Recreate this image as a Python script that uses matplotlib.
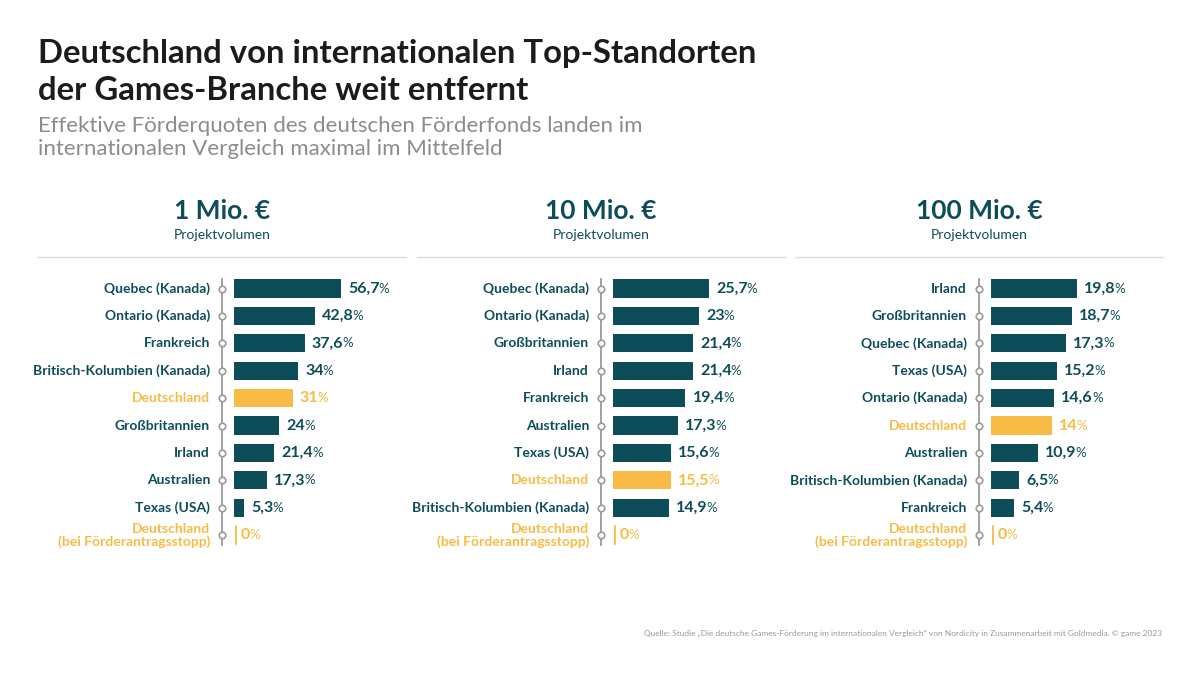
import matplotlib.pyplot as plt

plt.rcParams['font.family'] = ['Lato', 'DejaVu Sans']

TEAL = '#0d4d5a'
GOLD = '#f8bb45'
GREY = '#8c8c8c'

# Daten
heads = ['1 Mio. €', '10 Mio. €', '100 Mio. €']
labels_1 = ['Quebec (Kanada)', 'Ontario (Kanada)', 'Frankreich', 'Britisch-Kolumbien (Kanada)',
            'Deutschland', 'Großbritannien', 'Irland', 'Australien', 'Texas (USA)',
            'Deutschland\n(bei Förderantragsstopp)']
values_1 = [56.7, 42.8, 37.6, 34, 31, 24, 21.4, 17.3, 5.3, 0]
labels_2 = ['Quebec (Kanada)', 'Ontario (Kanada)', 'Großbritannien', 'Irland', 'Frankreich',
            'Australien', 'Texas (USA)', 'Deutschland', 'Britisch-Kolumbien (Kanada)',
            'Deutschland\n(bei Förderantragsstopp)']
values_2 = [25.7, 23, 21.4, 21.4, 19.4, 17.3, 15.6, 15.5, 14.9, 0]
labels_3 = ['Irland', 'Großbritannien', 'Quebec (Kanada)', 'Texas (USA)', 'Ontario (Kanada)',
            'Deutschland', 'Australien', 'Britisch-Kolumbien (Kanada)', 'Frankreich',
            'Deutschland\n(bei Förderantragsstopp)']
values_3 = [19.8, 18.7, 17.3, 15.2, 14.6, 14, 10.9, 6.5, 5.4, 0]

panels = [(labels_1, values_1), (labels_2, values_2), (labels_3, values_3)]

W, H = 1200, 675
fig = plt.figure(figsize=(12, 6.75), dpi=100)
fig.patch.set_facecolor('white')

# Titel
fig.text(38 / W, 1 - 54 / H, 'Deutschland von internationalen Top-Standorten',
         fontsize=23.7, fontweight='bold', color='#1c1c1c', va='center')
fig.text(38 / W, 1 - 90 / H, 'der Games-Branche weit entfernt',
         fontsize=23.7, fontweight='bold', color='#1c1c1c', va='center')
fig.text(38 / W, 1 - 126 / H, 'Effektive Förderquoten des deutschen Förderfonds landen im',
         fontsize=16, color=GREY, va='center')
fig.text(38 / W, 1 - 149 / H, 'internationalen Vergleich maximal im Mittelfeld',
         fontsize=16, color=GREY, va='center')

fig.text(1162 / W, 1 - 633 / H,
         'Quelle: Studie „Die deutsche Games-Förderung im internationalen Vergleich“ von Nordicity '
         'in Zusammenarbeit mit Goldmedia. © game 2023',
         fontsize=6, color='#999999', ha='right', va='center')

bar_start = [234, 613, 991]
px_per = [107 / 56.7, 96 / 25.7, 86 / 19.8]
row0, dy = 288.5, 27.4
n = 10
top_px = row0 - 0.5 * dy
bot_px = row0 + (n - 0.5) * dy
axw = 150

for k, (labs, vals) in enumerate(panels):
    x0 = bar_start[k]
    s = px_per[k]
    cx = x0 - 12
    # Kopf
    fig.text(cx / W, 1 - 211 / H, heads[k], fontsize=19, fontweight='bold',
             color=TEAL, ha='center', va='center')
    fig.text(cx / W, 1 - 235 / H, 'Projektvolumen', fontsize=10,
             color=TEAL, ha='center', va='center')
    fig.add_artist(plt.Line2D([(cx - 184) / W, (cx + 184) / W], [1 - 257 / H, 1 - 257 / H],
                              color='#dcdcdc', lw=1))

    ax = fig.add_axes([x0 / W, 1 - bot_px / H, axw / W, (bot_px - top_px) / H])
    ax.set_xlim(0, axw / s)
    ax.set_ylim(n - 0.5, -0.5)
    ax.axis('off')

    ys = list(range(n))
    colors = [GOLD if l.startswith('Deutschland') else TEAL for l in labs]
    ax.barh(ys, vals, height=0.66, color=colors)

    line_x = -12 / s
    ax.plot([line_x, line_x], [-0.35, n - 0.65], color='#9a9a9a', lw=1.3,
            clip_on=False, zorder=2)
    ax.scatter([line_x] * n, ys, s=22, facecolor='white', edgecolor='#9a9a9a',
               linewidth=1.2, clip_on=False, zorder=3)

    for i, (lab, v, c) in enumerate(zip(labs, vals, colors)):
        ax.text(-24 / s, i, lab, ha='right', va='center', fontsize=10,
                fontweight='bold', color=c, linespacing=1.05)
        if v == 0:
            ax.plot([2 / s, 2 / s], [i - 0.33, i + 0.33], color=GOLD, lw=1.3)
        num = f'{v:g}'.replace('.', ',')
        t = ax.text(v + 7 / s, i, num, ha='left', va='center', fontsize=11.5,
                    fontweight='bold', color=c)
        ax.annotate('%', xy=(1, 0.5), xycoords=t, xytext=(-0.8, 0),
                    textcoords='offset points', ha='left', va='center',
                    fontsize=9.5, color=c)

fig.savefig('out.png', dpi=100, facecolor='white')
